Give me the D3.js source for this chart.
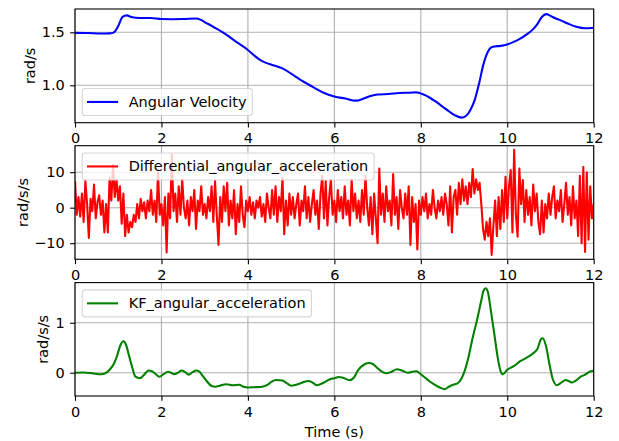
<!DOCTYPE html>
<html>
<head>
<meta charset="utf-8">
<script src="https://cdn.jsdelivr.net/npm/d3@7"></script>
<style>
  body { margin: 0; background: #fff; }
  svg { display: block; }
  text { font-family: "DejaVu Sans", sans-serif; }
</style>
</head>
<body>
<svg id="fig" width="619" height="441"></svg>
<script>
// ---- data ----
const timeTicks = [0, 2, 4, 6, 8, 10, 12];

// angular velocity (rad/s)
const velTime = [0, 0.3, 0.6, 0.8, 0.9, 1.0, 1.1, 1.2, 1.3, 1.5, 1.75, 2.0, 2.25, 2.5, 2.8, 2.9, 3.0,
  3.25, 3.5, 3.75, 4.0, 4.15, 4.3, 4.5, 4.65, 4.8, 5.0, 5.2, 5.5, 5.75, 6.0, 6.25, 6.5, 6.65, 6.8,
  7.0, 7.25, 7.5, 7.75, 7.9, 8.05, 8.2, 8.35, 8.5, 8.65, 8.8, 8.95, 9.05, 9.15, 9.25, 9.35, 9.45,
  9.55, 9.62, 9.7, 9.85, 10.0, 10.15, 10.3, 10.45, 10.6, 10.7, 10.8, 10.9, 11.0, 11.1, 11.25, 11.4,
  11.6, 11.8, 12.0];
const velValue = [1.495, 1.493, 1.488, 1.49, 1.50, 1.56, 1.645, 1.66, 1.645, 1.635, 1.635, 1.625,
  1.624, 1.625, 1.63, 1.62, 1.597, 1.54, 1.478, 1.405, 1.333, 1.28, 1.235, 1.2, 1.182, 1.16, 1.11,
  1.055, 0.985, 0.93, 0.895, 0.875, 0.855, 0.87, 0.895, 0.913, 0.918, 0.927, 0.93, 0.933, 0.915,
  0.885, 0.845, 0.8, 0.755, 0.715, 0.695, 0.712, 0.77, 0.865, 1.02, 1.2, 1.315, 1.355, 1.367,
  1.372, 1.385, 1.41, 1.44, 1.48, 1.53, 1.58, 1.645, 1.672, 1.655, 1.635, 1.61, 1.583, 1.552,
  1.538, 1.543];

// finite-difference angular acceleration (rad/s/s), one sample every diffStep seconds
const diffStep = 0.04;
const diffValue = [
  7.5, -2, 3, -2.5, 4, -4, 7.5, 1, -8.5, 2.5, -1, 6.5, -3, 1.5, 3.5, -2, 2, -7, 1, -7, 8.5, 2, 12, 3, 8,
  2, 6, -4.5, 4, -8, -2, -7, -4, -5.5, -2, -4, 1, -3, 2.5, -1, 1.5, -3, 2, -1, 5, -2, 2, -4, 10, -2,
  1, -5, 3, -12.6, 4, -3, 15, -1, 4, -4, 6, -2, 8, 0, -3, 2, -5, 3, -1, 5, -6, 2, -1, 6, -2,
  1, -3, 3, -1, 6, -4, 7.5, -2, -10.5, 3, -4, 6, -1, 7, -5, 2, -3, 5, -7.5, 1, -4, 6, -2, -5.5, 2,
  -1, 3, -2, 1.5, -3, 2, 0, 3, -2.5, 1, -4, 4, 0, -3, 5, -2, 6, -4, 3, -1, 8.5, -7.5, 2, -5, 4,
  -2, 3, -3, 1, 4, -5, 2, -1, 6, -3, 3, -4, 1, 5, -2, 2, -6, 4, 9, -3, 7.5, -5, 3, 8, -2,
  2, -4, 5, -1, 3, -3, 6, -2, 2, -5, 8, -1, 4, -3, 2, -4, 5, -2, 9, 0, -5, 3, -7.5, 4, -3,
  -10, 11, -2, 4, -4, 6, -1, 2, -5, 9.5, -2, 3, -6, 5, 0, -3, 4, -2, 6, -10.5, 3, -4, 1, -11.8, 2,
  -2, 3, -1, 4, -3, 1, -2, 5, 0, -3, 2, -1, 3, -2, 4, 1, -5, 6, -7, 3, 5, -2, 7, 1, 8,
  2, 6, 1, 7, 3, 10.9, 4, 8, 5, 7, 1, -6, -9, -4, -8, -3, -13.3, -5, 2, -8, 3, -6, 5, -4, 8.7,
  -3, 6, 10.6, -7, 16.3, -2, -8.2, 11, 1, 7.8, -4, 5, -2, 3, -5, 6.5, -1, 4, -4, -7.5, 2, -7, 1, -3, 4,
  -2, 3, 6, -3, 2, -1, 5, -4, 1, 7, -2, 3, -5, 6, -3, 2, -8, 9, -10, 11.5, -12.5, 10, -9, 6, -3,
  1
];

// Kalman-filtered angular acceleration (rad/s/s)
const kfTime = [0, 0.2, 0.4, 0.6, 0.7, 0.8, 0.9, 0.97, 1.05, 1.12, 1.18, 1.25, 1.32, 1.4, 1.5, 1.6,
  1.7, 1.78, 1.87, 1.95, 2.05, 2.15, 2.22, 2.3, 2.38, 2.47, 2.55, 2.63, 2.72, 2.8, 2.88, 2.95, 3.05,
  3.15, 3.25, 3.35, 3.5, 3.65, 3.8, 3.9, 4.0, 4.15, 4.3, 4.45, 4.55, 4.65, 4.8, 4.9, 5.0, 5.1, 5.25,
  5.4, 5.5, 5.6, 5.75, 5.9, 6.0, 6.1, 6.2, 6.35, 6.45, 6.55, 6.7, 6.8, 6.9, 7.0, 7.1, 7.2, 7.3, 7.45,
  7.55, 7.7, 7.8, 7.9, 8.0, 8.1, 8.2, 8.3, 8.45, 8.55, 8.65, 8.75, 8.85, 8.95, 9.0, 9.1, 9.2, 9.3,
  9.4, 9.45, 9.5, 9.55, 9.62, 9.7, 9.78, 9.85, 9.9, 10.0, 10.15, 10.3, 10.45, 10.6, 10.7, 10.78,
  10.82, 10.9, 10.97, 11.05, 11.15, 11.25, 11.35, 11.43, 11.5, 11.6, 11.7, 11.8, 11.9, 12.0];
const kfValue = [0.0, 0.005, -0.01, -0.03, -0.01, 0.06, 0.18, 0.33, 0.55, 0.63, 0.56, 0.34, 0.12,
  -0.08, -0.11, -0.04, 0.045, 0.03, -0.03, -0.08, -0.03, 0.02, 0.0, -0.03, 0.0, 0.045, 0.01, -0.04,
  0.01, 0.045, 0.02, -0.06, -0.17, -0.26, -0.28, -0.26, -0.23, -0.25, -0.24, -0.28, -0.295, -0.29,
  -0.285, -0.245, -0.18, -0.145, -0.155, -0.21, -0.26, -0.245, -0.2, -0.165, -0.2, -0.25, -0.2,
  -0.13, -0.11, -0.085, -0.1, -0.15, -0.1, 0.05, 0.17, 0.195, 0.17, 0.09, 0.02, -0.01, 0.01, 0.07,
  0.05, 0.0, 0.02, 0.03, -0.03, -0.1, -0.17, -0.23, -0.3, -0.33, -0.28, -0.24, -0.215, -0.1, 0.0,
  0.3, 0.7, 1.05, 1.45, 1.64, 1.69, 1.62, 1.25, 0.78, 0.3, 0.02, -0.03, 0.06, 0.13, 0.23, 0.3, 0.39,
  0.48, 0.67, 0.69, 0.52, 0.2, -0.12, -0.25, -0.2, -0.145, -0.17, -0.195, -0.15, -0.08, -0.04, 0.02,
  0.04];

const velTicks = [1.0, 1.5];
const velTickLabels = ["1.0", "1.5"];
const diffTicks = [-10, 0, 10];
const diffTickLabels = ["\u221210", "0", "10"];
const kfTicks = [0, 1];
const kfTickLabels = ["0", "1"];

// ---- layout ----
const svg = d3.select("#fig");
const FS = 14.5;
const LEFT = 75, RIGHT = 593.7;
const TICK = 4.86, PAD = 5.4;
const LW = 2.08;

const x = d3.scaleLinear().domain([0, 12]).range([LEFT, RIGHT]);

const panels = [
  {
    id: "vel", top: 9, bottom: 122.7, ylim: [0.647, 1.72],
    points: velTime.map((t, i) => [t, velValue[i]]), curve: d3.curveMonotoneX,
    color: "#0000ff", ticks: velTicks, tickLabels: velTickLabels,
    ylabel: "rad/s", ylabelX: 29.5, legend: "Angular Velocity", legendLoc: "lower"
  },
  {
    id: "diff", top: 145.7, bottom: 259.3, ylim: [-14.54, 17.46],
    points: diffValue.map((v, i) => [i * diffStep, v]), curve: d3.curveLinear,
    color: "#ff0000", ticks: diffTicks, tickLabels: diffTickLabels,
    ylabel: "rad/s/s", ylabelX: 22.5, legend: "Differential_angular_acceleration", legendLoc: "upper"
  },
  {
    id: "kf", top: 282.6, bottom: 396, ylim: [-0.466, 1.804],
    points: kfTime.map((t, i) => [t, kfValue[i]]), curve: d3.curveMonotoneX,
    color: "#008000", ticks: kfTicks, tickLabels: kfTickLabels,
    ylabel: "rad/s/s", ylabelX: 43, legend: "KF_angular_acceleration", legendLoc: "upper"
  }
];

panels.forEach(p => {
  const y = d3.scaleLinear().domain(p.ylim).range([p.bottom, p.top]);
  const g = svg.append("g").attr("class", "panel-" + p.id);

  // clip region = axes box
  svg.append("defs").append("clipPath").attr("id", "clip-" + p.id)
    .append("rect").attr("x", LEFT).attr("y", p.top)
    .attr("width", RIGHT - LEFT).attr("height", p.bottom - p.top);

  // grid
  const grid = g.append("g").attr("stroke", "#b0b0b0").attr("stroke-width", 1.1);
  grid.selectAll("line.gx").data(timeTicks).join("line").attr("class", "gx")
    .attr("x1", d => x(d)).attr("x2", d => x(d)).attr("y1", p.top).attr("y2", p.bottom);
  grid.selectAll("line.gy").data(p.ticks).join("line").attr("class", "gy")
    .attr("x1", LEFT).attr("x2", RIGHT).attr("y1", d => y(d)).attr("y2", d => y(d));

  // series
  const line = d3.line().x(d => x(d[0])).y(d => y(d[1])).curve(p.curve);
  g.append("path").datum(p.points)
    .attr("clip-path", `url(#clip-${p.id})`)
    .attr("d", line).attr("fill", "none").attr("stroke", p.color)
    .attr("stroke-width", LW).attr("stroke-linejoin", "round");

  // spines
  g.append("rect").attr("x", LEFT).attr("y", p.top)
    .attr("width", RIGHT - LEFT).attr("height", p.bottom - p.top)
    .attr("fill", "none").attr("stroke", "#000").attr("stroke-width", 1.1);

  // axes
  const xAxis = d3.axisBottom(x).tickValues(timeTicks).tickSize(TICK).tickPadding(PAD)
    .tickFormat(d3.format("d"));
  const yAxis = d3.axisLeft(y).tickValues(p.ticks).tickSize(TICK).tickPadding(PAD)
    .tickFormat((d, i) => p.tickLabels[i]);
  [g.append("g").attr("transform", `translate(0,${p.bottom})`).call(xAxis),
   g.append("g").attr("transform", `translate(${LEFT},0)`).call(yAxis)].forEach(a => {
    a.attr("font-size", FS).attr("font-family", "DejaVu Sans");
    a.select(".domain").remove();
    a.selectAll(".tick line").attr("stroke", "#000").attr("stroke-width", 1.1);
    a.selectAll(".tick text").attr("fill", "#000");
  });

  // y label
  g.append("text")
    .attr("transform", `translate(${p.ylabelX},${(p.top + p.bottom) / 2}) rotate(-90)`)
    .attr("text-anchor", "middle").attr("dominant-baseline", "central")
    .attr("font-size", FS).attr("fill", "#000").text(p.ylabel);

  // legend
  const lg = g.append("g");
  const bp = 0.4 * FS, hl = 2.0 * FS, htp = 0.8 * FS, bap = 0.5 * FS;
  const boxH = 27;
  const lx = LEFT + bap;
  const ly = p.legendLoc === "upper" ? p.top + bap : p.bottom - bap - boxH;
  const frame = lg.append("rect");
  const label = lg.append("text")
    .attr("x", lx + bp + hl + htp).attr("y", ly + boxH / 2)
    .attr("dominant-baseline", "central").attr("font-size", FS).attr("fill", "#000")
    .text(p.legend);
  const tw = label.node().getComputedTextLength();
  frame.attr("x", lx).attr("y", ly).attr("rx", 0.2 * FS).attr("ry", 0.2 * FS)
    .attr("width", bp + hl + htp + tw + bp).attr("height", boxH)
    .attr("fill", "#fff").attr("fill-opacity", 0.8)
    .attr("stroke", "#cccccc").attr("stroke-opacity", 0.8).attr("stroke-width", 1.1);
  lg.append("line")
    .attr("x1", lx + bp).attr("x2", lx + bp + hl)
    .attr("y1", ly + boxH / 2).attr("y2", ly + boxH / 2)
    .attr("stroke", p.color).attr("stroke-width", LW).attr("stroke-linecap", "square");
  lg.raise();
});

// shared x label
svg.append("text").attr("x", (LEFT + RIGHT) / 2).attr("y", 437)
  .attr("text-anchor", "middle").attr("font-size", FS).attr("fill", "#000")
  .text("Time (s)");
</script>
</body>
</html>
